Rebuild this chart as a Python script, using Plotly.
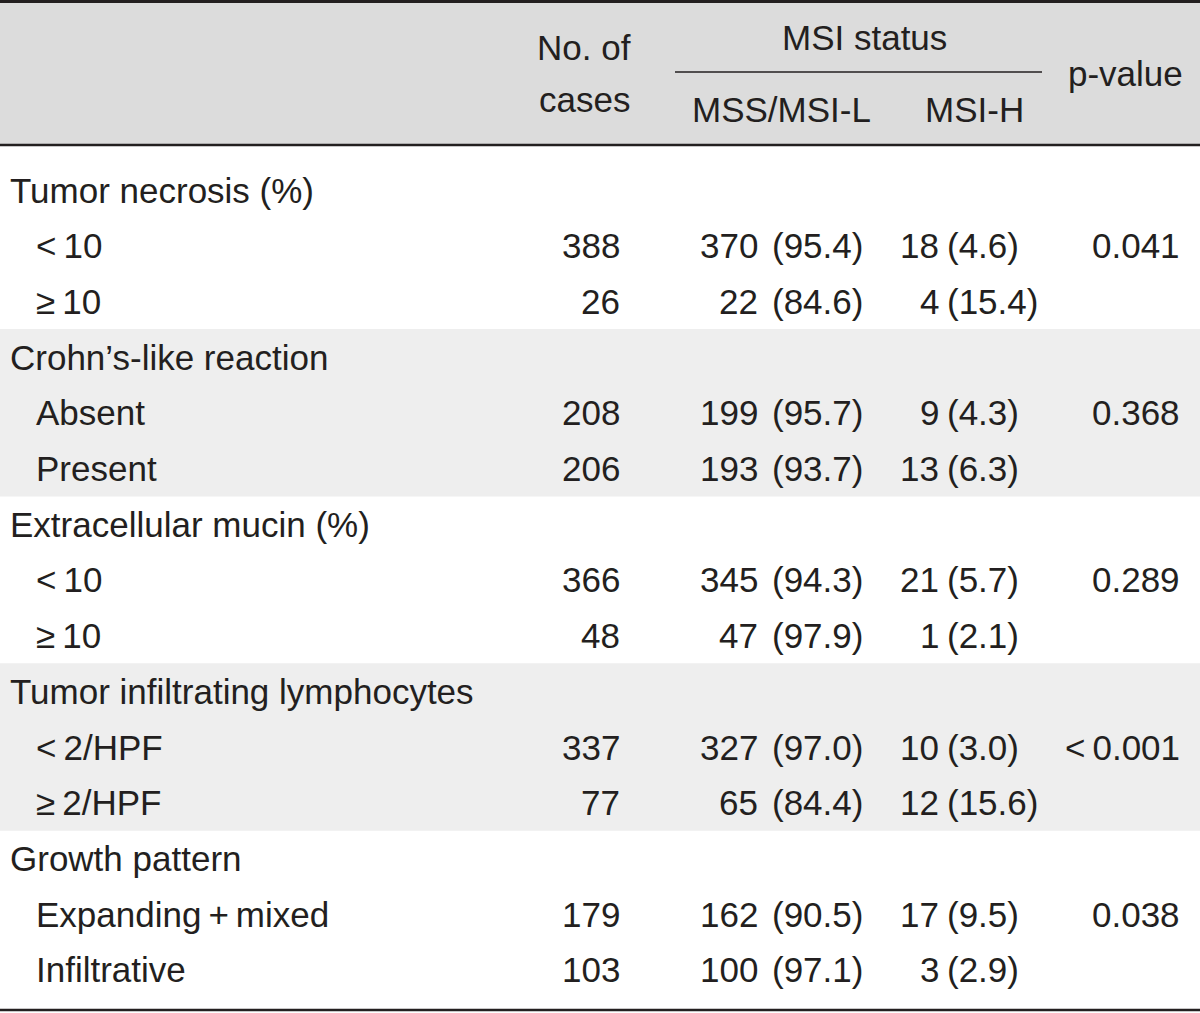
import plotly.graph_objects as go

# ---------------- data ----------------
groups = ["Tumor necrosis (%)", "Crohn’s-like reaction", "Extracellular mucin (%)",
          "Tumor infiltrating lymphocytes", "Growth pattern"]
subcats = [["<\u200910", "≥\u200910"], ["Absent", "Present"], ["<\u200910", "≥\u200910"],
           ["<\u20092/HPF", "≥\u20092/HPF"], ["Expanding\u2009+\u2009mixed", "Infiltrative"]]
cases = [[388, 26], [208, 206], [366, 48], [337, 77], [179, 103]]
mss_n = [[370, 22], [199, 193], [345, 47], [327, 65], [162, 100]]
mss_pct = [[95.4, 84.6], [95.7, 93.7], [94.3, 97.9], [97.0, 84.4], [90.5, 97.1]]
msih_n = [[18, 4], [9, 13], [21, 1], [10, 12], [17, 3]]
msih_pct = [[4.6, 15.4], [4.3, 6.3], [5.7, 2.1], [3.0, 15.6], [9.5, 2.9]]
pvalues = ["0.041", "0.368", "0.289", "<\u20090.001", "0.038"]
header_cases = ["No. of", "cases"]
header_msi = "MSI status"
header_sub = ["MSS/MSI-L", "MSI-H"]
header_p = "p-value"

# ---------------- layout constants ----------------
W, H = 1200, 1013
FONT = "Liberation Sans, Arial, sans-serif"
FS = 35
TXT = "#231f20"
HEAD_BG = "#dcdcdc"
BAND_BG = "#eeeeee"
ROW0, STEP = 190, 55.7

X_GROUP, X_SUB = 8, 34
X_CASES = 622
X_MSS_N, X_MSS_P = 760, 770
X_MSIH_N, X_MSIH_P = 941, 945
X_P = 1182

fig = go.Figure()
shapes = []
ann = []


def row_y(r):
    return ROW0 + r * STEP


def add_text(x, y, s, anchor="left"):
    ann.append(dict(x=x, y=y, text=s, xref="x", yref="y", showarrow=False,
                    xanchor=anchor, yanchor="middle",
                    font=dict(family=FONT, size=FS, color=TXT)))


# header background
shapes.append(dict(type="rect", xref="x", yref="y", x0=0, x1=W, y0=2, y1=145,
                   fillcolor=HEAD_BG, line_width=0, layer="below"))

# group bands (alternating)
for g in range(len(groups)):
    if g % 2 == 1:
        top = row_y(3 * g) - 28
        bot = row_y(3 * g + 2) + 28
        shapes.append(dict(type="rect", xref="x", yref="y", x0=0, x1=W, y0=top, y1=bot,
                           fillcolor=BAND_BG, line_width=0, layer="below"))

# rules
shapes.append(dict(type="line", xref="x", yref="y", x0=0, x1=W, y0=1.5, y1=1.5,
                   line=dict(color=TXT, width=3)))
shapes.append(dict(type="line", xref="x", yref="y", x0=0, x1=W, y0=145, y1=145,
                   line=dict(color=TXT, width=2.5)))
shapes.append(dict(type="line", xref="x", yref="y", x0=0, x1=W, y0=1010, y1=1010,
                   line=dict(color=TXT, width=2.5)))
shapes.append(dict(type="line", xref="x", yref="y", x0=675, x1=1042, y0=72, y1=72,
                   line=dict(color=TXT, width=1.5)))

# header text
add_text(584, 47, header_cases[0], "center")
add_text(584, 99, header_cases[1], "center")
add_text(864, 37, header_msi, "center")
add_text(781, 109, header_sub[0], "center")
add_text(974, 109, header_sub[1], "center")
add_text(1125, 73, header_p, "center")

# body
for g, name in enumerate(groups):
    add_text(X_GROUP, row_y(3 * g), name, "left")
    for k in range(2):
        y = row_y(3 * g + 1 + k)
        add_text(X_SUB, y, subcats[g][k], "left")
        add_text(X_CASES, y, str(cases[g][k]), "right")
        add_text(X_MSS_N, y, str(mss_n[g][k]), "right")
        add_text(X_MSS_P, y, f"({mss_pct[g][k]:.1f})", "left")
        add_text(X_MSIH_N, y, str(msih_n[g][k]), "right")
        add_text(X_MSIH_P, y, f"({msih_pct[g][k]:.1f})", "left")
    add_text(X_P, row_y(3 * g + 1), pvalues[g], "right")

fig.update_layout(
    width=W, height=H,
    margin=dict(l=0, r=0, t=0, b=0),
    paper_bgcolor="white", plot_bgcolor="white",
    xaxis=dict(range=[0, W], visible=False, fixedrange=True),
    yaxis=dict(range=[H, 0], visible=False, fixedrange=True),
    shapes=shapes, annotations=ann, showlegend=False,
)

fig.write_html(
    "out.html",
    config={"displayModeBar": False},
    post_script="document.body.style.margin='0';document.body.style.overflow='hidden';",
)
